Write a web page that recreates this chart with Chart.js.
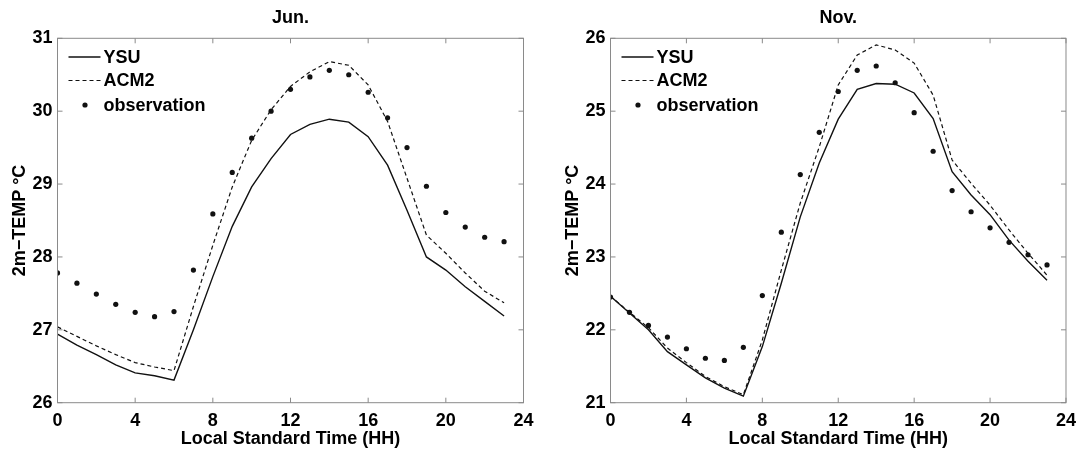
<!DOCTYPE html>
<html>
<head>
<meta charset="utf-8">
<script src="https://cdn.jsdelivr.net/npm/chart.js@4.4.0/dist/chart.umd.min.js"></script>
<style>
  html, body { margin: 0; padding: 0; background: #fff; }
  .panel { position: absolute; top: 0; height: 451px; }
</style>
</head>
<body>
<div class="panel" style="left:0;width:542px"><canvas id="chartJun" width="542" height="451"></canvas></div>
<div class="panel" style="left:553px;width:531px"><canvas id="chartNov" width="531" height="451"></canvas></div>
<script>
// ── Data ───────────────────────────────────────────────
const hours = [0, 1, 2, 3, 4, 5, 6, 7, 8, 9, 10, 11, 12, 13, 14, 15, 16, 17, 18, 19, 20, 21, 22, 23];
const xTicks = [0, 4, 8, 12, 16, 20, 24];

const junYTicks = [26, 27, 28, 29, 30, 31];
const junYSU  = [26.94, 26.79, 26.66, 26.52, 26.41, 26.37, 26.31, 27.00, 27.73, 28.42, 28.96, 29.35,
                 29.68, 29.82, 29.89, 29.85, 29.65, 29.26, 28.64, 28.00, 27.82, 27.59, 27.39, 27.19];
const junACM2 = [27.04, 26.91, 26.78, 26.66, 26.55, 26.49, 26.44, 27.32, 28.16, 28.96, 29.60, 30.02,
                 30.34, 30.54, 30.68, 30.63, 30.36, 29.86, 29.08, 28.30, 28.05, 27.78, 27.53, 27.37];
const junObs  = [27.78, 27.64, 27.49, 27.35, 27.24, 27.18, 27.25, 27.82, 28.59, 29.16, 29.63, 30.00,
                 30.30, 30.47, 30.56, 30.50, 30.26, 29.91, 29.50, 28.97, 28.61, 28.41, 28.27, 28.21];

const novYTicks = [21, 22, 23, 24, 25, 26];
const novYSU  = [22.46, 22.23, 22.00, 21.70, 21.52, 21.34, 21.20, 21.09, 21.77, 22.64, 23.55, 24.29,
                 24.89, 25.30, 25.38, 25.37, 25.25, 24.90, 24.17, 23.85, 23.58, 23.23, 22.94, 22.68];
const novACM2 = [22.46, 22.24, 22.03, 21.75, 21.55, 21.36, 21.22, 21.11, 21.86, 22.82, 23.74, 24.51,
                 25.36, 25.77, 25.91, 25.84, 25.66, 25.22, 24.33, 24.01, 23.71, 23.37, 23.05, 22.75];
const novObs  = [22.45, 22.24, 22.06, 21.90, 21.74, 21.61, 21.58, 21.76, 22.47, 23.34, 24.13, 24.71,
                 25.27, 25.56, 25.62, 25.39, 24.98, 24.45, 23.91, 23.62, 23.40, 23.20, 23.03, 22.89];

// ── Style ──────────────────────────────────────────────
const FONT  = '"Liberation Sans", Arial, Helvetica, sans-serif';
const AXIS  = '#8a8a8a';
const INK   = '#111';
const TICK_LEN = 5;

Chart.defaults.font.family = FONT;
Chart.defaults.font.weight = 'bold';
Chart.defaults.color = '#000';

// MATLAB-like box with inward ticks on all four sides
const framePlugin = {
  id: 'frame',
  afterDatasetsDraw(chart) {
    const { ctx, chartArea: a, scales: { x, y } } = chart;
    ctx.save();
    ctx.strokeStyle = AXIS;
    ctx.lineWidth = 1;
    ctx.strokeRect(a.left, a.top, a.width, a.height);
    ctx.beginPath();
    x.ticks.forEach(t => {
      const px = x.getPixelForValue(t.value);
      ctx.moveTo(px, a.bottom); ctx.lineTo(px, a.bottom - TICK_LEN);
      ctx.moveTo(px, a.top);    ctx.lineTo(px, a.top + TICK_LEN);
    });
    y.ticks.forEach(t => {
      const py = y.getPixelForValue(t.value);
      ctx.moveTo(a.left, py);  ctx.lineTo(a.left + TICK_LEN, py);
      ctx.moveTo(a.right, py); ctx.lineTo(a.right - TICK_LEN, py);
    });
    ctx.stroke();
    ctx.restore();
  }
};

// Legend in the upper-left corner of the axes
const boxLegend = {
  id: 'boxLegend',
  afterDraw(chart) {
    const { ctx, chartArea: a } = chart;
    const rows = [18.7, 42.2, 66.7];
    ctx.save();
    ctx.font = 'bold 18px ' + FONT;
    ctx.textBaseline = 'middle';
    ctx.fillStyle = '#000';
    chart.data.datasets.forEach((ds, i) => {
      const yy = a.top + rows[i];
      if (ds.showLine === false) {
        ctx.beginPath();
        ctx.arc(a.left + 27.5, yy, ds.pointRadius, 0, Math.PI * 2);
        ctx.fillStyle = INK;
        ctx.fill();
      } else {
        ctx.beginPath();
        ctx.setLineDash(ds.borderDash || []);
        ctx.strokeStyle = ds.borderColor;
        ctx.lineWidth = ds.borderWidth;
        ctx.moveTo(a.left + 11, yy);
        ctx.lineTo(a.left + 43, yy);
        ctx.stroke();
        ctx.setLineDash([]);
      }
      ctx.fillStyle = '#000';
      ctx.fillText(ds.label, a.left + 46, yy + 1);
    });
    ctx.restore();
  }
};

function pts(vals) {
  return hours.map((h, i) => ({ x: h, y: vals[i] }));
}

function makeChart(id, title, ysu, acm2, obs, yTicks, rightPad) {
  return new Chart(document.getElementById(id), {
    type: 'line',
    data: {
      datasets: [
        { label: 'YSU', data: pts(ysu), borderColor: INK, borderWidth: 1.4,
          pointRadius: 0, tension: 0 },
        { label: 'ACM2', data: pts(acm2), borderColor: INK, borderWidth: 1.2,
          borderDash: [4, 3], pointRadius: 0, tension: 0 },
        { label: 'observation', data: pts(obs), showLine: false, pointRadius: 2.6,
          pointBackgroundColor: INK, pointBorderWidth: 0 },
      ]
    },
    options: {
      responsive: false,
      animation: false,
      layout: { padding: { left: 0, right: rightPad, top: 0, bottom: 0 } },
      plugins: {
        legend: { display: false },
        tooltip: { enabled: false },
        title: {
          display: true, text: title, fullSize: false, color: '#000',
          font: { size: 18, weight: 'bold' },
          padding: { top: 7.5, bottom: 9.2 },
        },
      },
      scales: {
        x: {
          type: 'linear', min: 0, max: 24,
          grid: { display: false, drawTicks: false },
          border: { display: false },
          ticks: { padding: 8, color: '#000', font: { size: 18, weight: 'bold' } },
          afterBuildTicks: s => { s.ticks = xTicks.map(v => ({ value: v })); },
          afterFit: s => { s.height = 48.3; },
          title: {
            display: true, text: 'Local Standard Time (HH)', color: '#000',
            font: { size: 18, weight: 'bold' }, padding: { top: 0, bottom: 0.8 },
          },
        },
        y: {
          type: 'linear', min: yTicks[0], max: yTicks[yTicks.length - 1],
          grid: { display: false, drawTicks: false },
          border: { display: false },
          ticks: { padding: 5, color: '#000', font: { size: 18, weight: 'bold' } },
          afterBuildTicks: s => { s.ticks = yTicks.map(v => ({ value: v })); },
          afterFit: s => { s.width = 57.5; },
          title: {
            display: true, text: '2m\u2212TEMP \u00B0C', color: '#000',
            font: { size: 18, weight: 'bold' }, padding: { top: 9.2, bottom: 0 },
          },
        },
      },
    },
    plugins: [framePlugin, boxLegend],
  });
}

makeChart('chartJun', 'Jun.', junYSU, junACM2, junObs, junYTicks, 18.5);
makeChart('chartNov', 'Nov.', novYSU, novACM2, novObs, novYTicks, 11);
</script>
</body>
</html>
